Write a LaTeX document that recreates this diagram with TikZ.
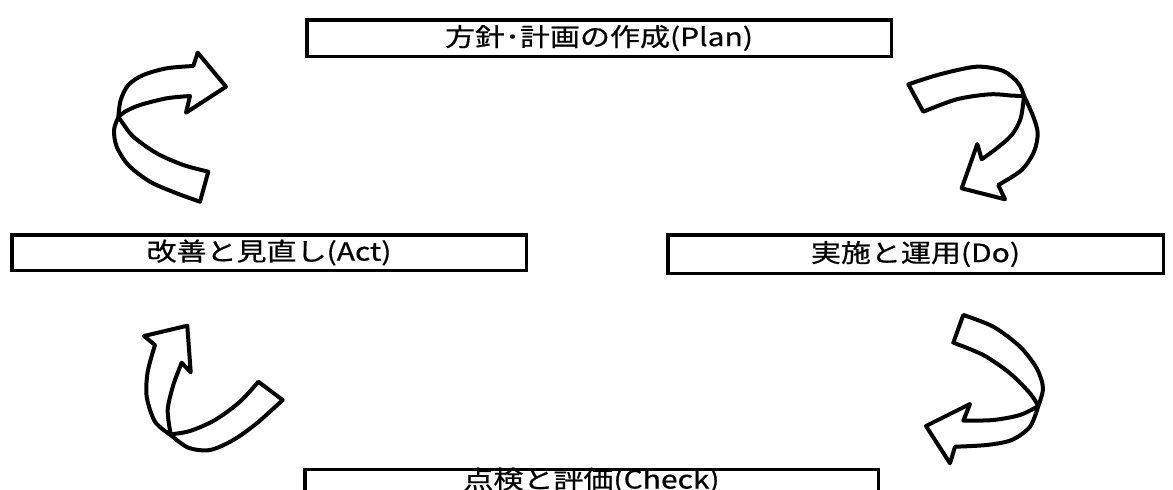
\documentclass[tikz,border=0pt]{standalone}
\usepackage{fontspec}
\newfontfamily\jp[FakeBold=0.6, FakeStretch=1.2]{Noto Sans CJK JP}
\begin{document}
\begin{tikzpicture}[x=1pt,y=-1pt,
  box/.style={draw=black, line width=3.5pt, fill=white, inner sep=0pt,
    font=\jp\fontsize{25}{27}\selectfont},
  ribbon/.style={draw=black, fill=white, line width=4pt, line join=round}]
\useasboundingbox (0,0) rectangle (1173,490);
\fill[white] (0,0) rectangle (1173,490);
\clip (0,0) rectangle (1173,490);

% boxes
\node[box, minimum width=584.5pt, minimum height=36.5pt] (plan) at (599,38) {方針･計画の作成(Plan)};
\node[box, minimum width=514.5pt, minimum height=35.5pt] (act) at (269,252.5) {改善と見直し(Act)};
\node[box, minimum width=495.5pt, minimum height=38.5pt] (do) at (915.5,254) {実施と運用(Do)};
\node[box, anchor=north, minimum width=573.5pt, text height=19pt, text depth=30pt] (check) at (591.5,467.75) {点検と評価(Check)};

% top-left arrow (Act -> Plan)
\draw[ribbon] (200,201.7) -- plot[smooth] coordinates {(200,201.7) (176.7,193.3) (150,181.7) (128.3,165) (116.7,146.7) (114,130) (118.3,117.3)}
  -- plot[smooth] coordinates {(118.3,117.3) (120.7,100) (128.3,85) (143.3,75) (166.7,68.3) (193.3,66)}
  -- (197.7,52.7) -- (226,86.7) -- (186,112.7) -- (190,96)
  -- plot[smooth] coordinates {(190,96) (166.7,98.3) (140,105) (125,111.7) (118.3,117.3)}
  -- plot[smooth] coordinates {(118.3,117.3) (121.7,121.7) (133.3,136.7) (156.7,153.3) (183.3,165) (208.3,171.7)}
  -- cycle;

% top-right arrow (Plan -> Do)
\draw[ribbon] (908.3,84.3) -- plot[smooth] coordinates {(908.3,84.3) (940,74.3) (976.7,66.7) (1003.3,71) (1018.3,83.3) (1024,95.7)}
  -- plot[smooth] coordinates {(1024,95.7) (1033.3,116.7) (1037.7,133.3) (1034,151.7) (1021.7,170) (998.3,185)}
  -- (1005,199.3) -- (961.7,188.3) -- (977.3,144) -- (981.7,159.3)
  -- plot[smooth] coordinates {(981.7,159.3) (996.7,148.3) (1011.7,135) (1020.7,118.3) (1024,95.7)}
  -- plot[smooth] coordinates {(1024,95.7) (1013.3,95.7) (990,94.3) (956.7,99.3) (923.3,111.7)}
  -- cycle;

% bottom-right arrow (Do -> Check)
\draw[ribbon] (963.3,315) -- plot[smooth] coordinates {(963.3,315) (993.3,326.7) (1020,346.7) (1036.7,368.3) (1043,388) (1038.3,406)}
  -- plot[smooth] coordinates {(1038.3,406) (1030,426.7) (1011.7,440) (986.7,445) (955,446.7)}
  -- (950,463.3) -- (926,426) -- (970,404) -- (963.3,420.7)
  -- plot[smooth] coordinates {(963.3,420.7) (993.3,420) (1020,415) (1038.3,406)}
  -- plot[smooth] coordinates {(1038.3,406) (1030,393.3) (1010,373.3) (983.3,355) (953.3,342.7)}
  -- cycle;

% bottom-left arrow (Check -> Act)
\draw[ribbon] (282.7,400) -- plot[smooth] coordinates {(282.7,400) (256.7,423.3) (233.3,440) (210,450) (188.3,447.7) (170.7,435)}
  -- plot[smooth] coordinates {(170.7,435) (155,421.7) (146.7,396.7) (147.7,371.7) (155,345)}
  -- (144,336) -- (187.3,325.7) -- (190.7,372.3) -- (181.7,362.7)
  -- plot[smooth] coordinates {(181.7,362.7) (173.3,385) (167.7,410) (170.7,434.3)}
  -- plot[smooth] coordinates {(170.7,434.3) (190,431) (215,420) (240,401.7) (258.3,381.7)}
  -- cycle;
\end{tikzpicture}
\end{document}
